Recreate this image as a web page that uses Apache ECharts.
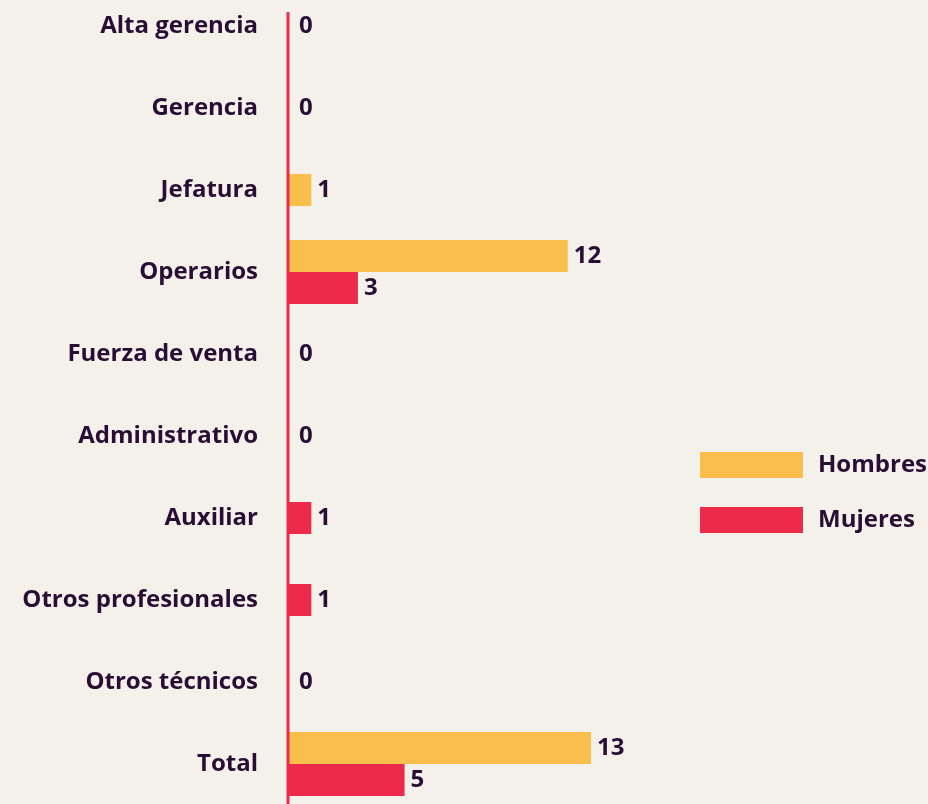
<!DOCTYPE html>
<html>
<head>
<meta charset="utf-8">
<title></title>
    <style>
        * {
            margin: 0;
            padding: 0;
        }
        body {
            background: #f4f0ea;
        }
        #main {
            width: 928px;
            height: 804px;
        }
    </style>
</head>
<body>
<div id="main"></div>
<script src="https://cdn.jsdelivr.net/npm/echarts@6/dist/echarts.min.js"></script>
<script>
    var categorias = ['Alta gerencia', 'Gerencia', 'Jefatura', 'Operarios', 'Fuerza de venta',
        'Administrativo', 'Auxiliar', 'Otros profesionales', 'Otros técnicos', 'Total'];
    var hombres = [0, 0, 1, 12, 0, 0, 0, 0, 0, 13];
    var mujeres = [0, 0, 0, 3, 0, 0, 1, 1, 0, 5];

    var amarillo = '#f9be4c';
    var rojo = '#ee2a4a';
    var texto = '#2a0d35';
    var fuente = 'Open Sans';
    var tam = 24;

    // barra centrada si la otra serie es 0, si no se reparten arriba/abajo
    function pintar(otros, arriba, color) {
        return function(params, api) {
            var i = api.value(1);
            var v = api.value(0);
            var c = api.coord([0, i]);
            var h = 32;
            var y;
            if (otros[i] > 0) {
                y = arriba ? c[1] - h : c[1];
            } else {
                y = c[1] - h / 2;
            }
            var hijos = [];
            if (v > 0) {
                var x1 = api.coord([v, i])[0];
                hijos.push({
                    type: 'rect',
                    shape: { x: c[0], y: y, width: x1 - c[0], height: h },
                    style: { fill: color }
                });
                hijos.push({
                    type: 'text',
                    style: {
                        text: String(v), x: x1 + 6, y: y + h / 2,
                        verticalAlign: 'middle', fill: texto,
                        fontSize: tam, fontWeight: 'bold', fontFamily: fuente
                    }
                });
            } else if (arriba && otros[i] === 0) {
                hijos.push({
                    type: 'text',
                    style: {
                        text: '0', x: c[0] + 11, y: c[1],
                        verticalAlign: 'middle', fill: texto,
                        fontSize: tam, fontWeight: 'bold', fontFamily: fuente
                    }
                });
            }
            return { type: 'group', children: hijos };
        };
    }

    var myChart = echarts.init(document.getElementById('main'));
    var option = {
        backgroundColor: '#f4f0ea',
        animation: false,
        grid: {
            left: 288,
            right: 267,
            top: -15,
            height: 820,
            outerBoundsMode: 'none',
            containLabel: false
        },
        legend: {
            orient: 'vertical',
            left: 695,
            top: 447,
            itemWidth: 103,
            itemHeight: 26,
            itemGap: 29,
            icon: 'rect',
            data: ['Hombres', 'Mujeres'],
            textStyle: {
                color: texto,
                fontSize: tam,
                fontWeight: 'bold',
                fontFamily: fuente,
                padding: [0, 0, 0, 10]
            }
        },
        xAxis: {
            type: 'value',
            min: 0,
            max: 16,
            show: false
        },
        yAxis: {
            type: 'category',
            inverse: true,
            data: categorias,
            axisLine: { show: false },
            axisTick: { show: false },
            splitLine: { show: false },
            axisLabel: {
                margin: 30,
                color: texto,
                fontSize: tam,
                fontWeight: 'bold',
                fontFamily: fuente
            }
        },
        graphic: [{
            type: 'line',
            shape: { x1: 288, y1: 12, x2: 288, y2: 804 },
            style: { stroke: rojo, lineWidth: 3 },
            z: 10
        }],
        series: [
            {
                name: 'Hombres',
                type: 'custom',
                itemStyle: { color: amarillo },
                clip: false,
                encode: { x: 0, y: 1 },
                renderItem: pintar(mujeres, true, amarillo),
                data: hombres.map(function(v, i) { return [v, i]; })
            },
            {
                name: 'Mujeres',
                type: 'custom',
                itemStyle: { color: rojo },
                clip: false,
                encode: { x: 0, y: 1 },
                renderItem: pintar(hombres, false, rojo),
                data: mujeres.map(function(v, i) { return [v, i]; })
            }
        ]
    };
    myChart.setOption(option);
</script>
</body>
</html>
